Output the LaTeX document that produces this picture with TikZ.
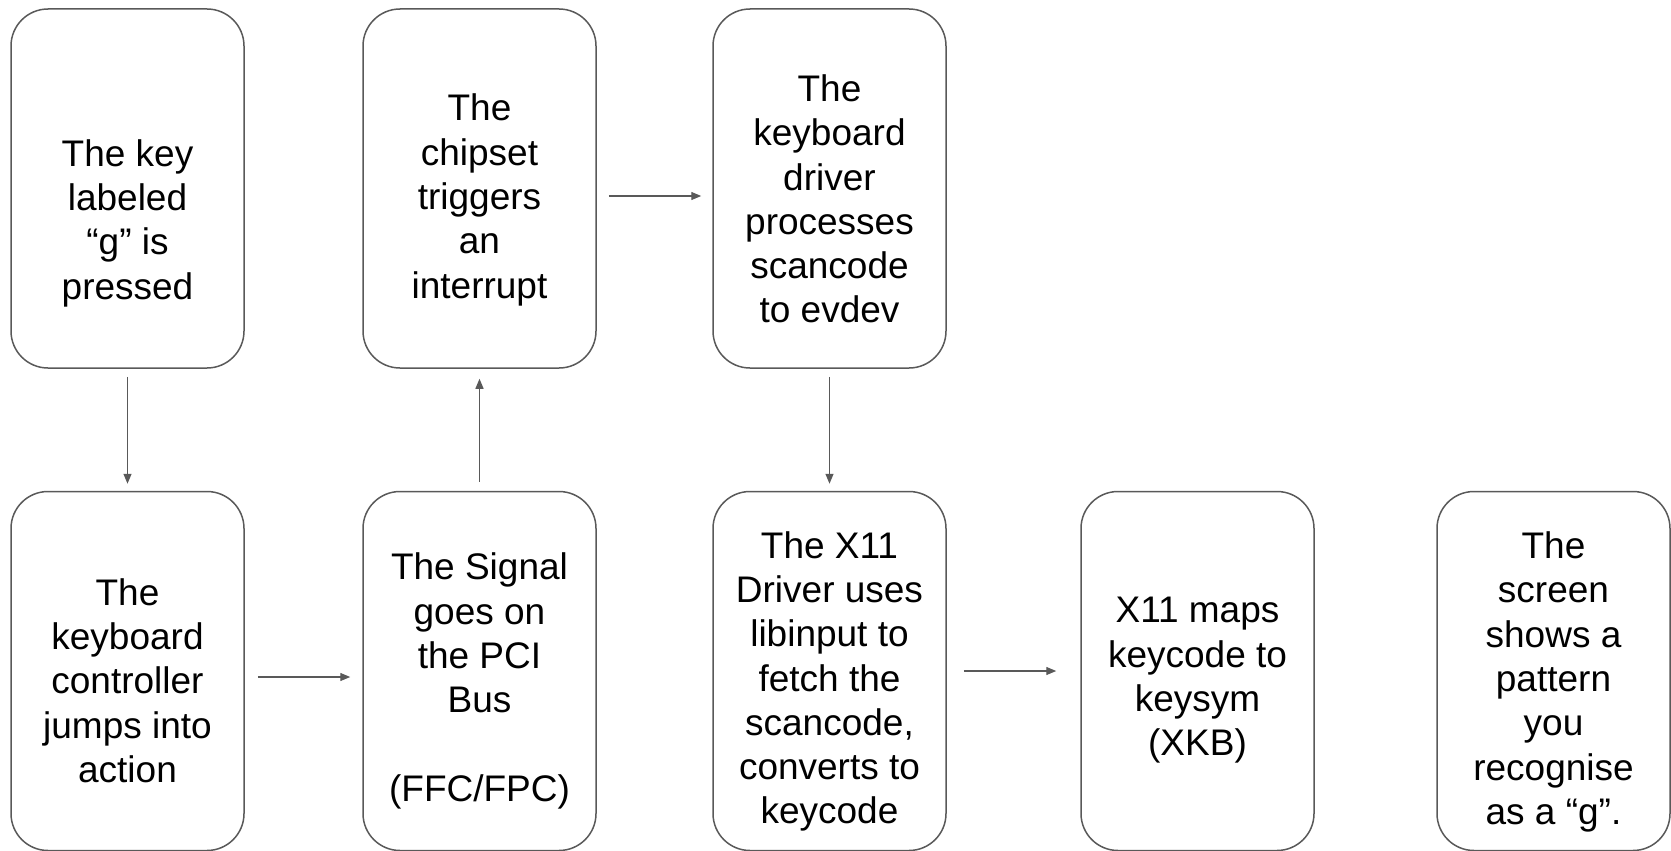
\documentclass[tikz,border=0pt]{standalone}
\usepackage{fontspec}
\setmainfont{Liberation Sans}
\usetikzlibrary{arrows.meta}
\definecolor{edge}{HTML}{595959}
\begin{document}
\begin{tikzpicture}[x=1pt,y=-1pt,
  box/.style={draw=edge, line width=1.5pt, rounded corners=37pt, minimum width=233pt, minimum height=359pt, inner sep=0pt},
  txt/.style={align=center, inner sep=0pt, font=\fontsize{37}{44.3}\selectfont},
  arr/.style={draw=edge, line width=1.3pt, -{Triangle[length=10pt,width=8pt]}}]
\useasboundingbox (0,0) rectangle (1671,851);
% boxes
\node[box] (b1) at (127.5,188.5) {};
\node[box] (b2) at (479.5,188.5) {};
\node[box] (b3) at (829.5,188.5) {};
\node[box] (b4) at (127.5,671) {};
\node[box] (b5) at (479.5,671) {};
\node[box] (b6) at (829.5,671) {};
\node[box] (b7) at (1197.5,671) {};
\node[box] (b8) at (1553.5,671) {};
% texts
\node[txt] (t1) at (127.5,223) {The key\\labeled\\“g” is\\pressed};
\node[txt] (t2) at (479.5,200) {The\\chipset\\triggers\\an\\interrupt};
\node[txt] (t3) at (829.5,199) {The\\keyboard\\driver\\processes\\scancode\\to evdev};
\node[txt] (t4) at (127.5,680.5) {The\\keyboard\\controller\\jumps into\\action};
\node[txt] (t5) at (479.5,681) {The Signal\\goes on\\the PCI\\Bus\\~\\(FFC/FPC)};
\node[txt] (t6) at (829.5,681.5) {The X11\\Driver uses\\libinput to\\fetch the\\scancode,\\converts to\\keycode};
\node[txt] (t7) at (1197.5,680.5) {X11 maps\\keycode to\\keysym\\(XKB)};
\node[txt] (t8) at (1553.5,682) {The\\screen\\shows a\\pattern\\you\\recognise\\as a “g”.};
% arrows
\draw[arr, shorten <=8pt, shorten >=7pt] (b1.south) -- (b4.north);
\draw[arr, shorten <=13pt, shorten >=12pt] ([yshift=-6pt]b4.east) -- ([yshift=-6pt]b5.west);
\draw[arr, shorten <=9pt, shorten >=10pt] (b5.north) -- (b2.south);
\draw[arr, shorten <=12pt, shorten >=11pt] ([yshift=-7.5pt]b2.east) -- ([yshift=-7.5pt]b3.west);
\draw[arr, shorten <=8pt, shorten >=7pt] (b3.south) -- (b6.north);
\draw[arr, shorten <=17pt, shorten >=24pt] (b6.east) -- (b7.west);
\end{tikzpicture}
\end{document}
